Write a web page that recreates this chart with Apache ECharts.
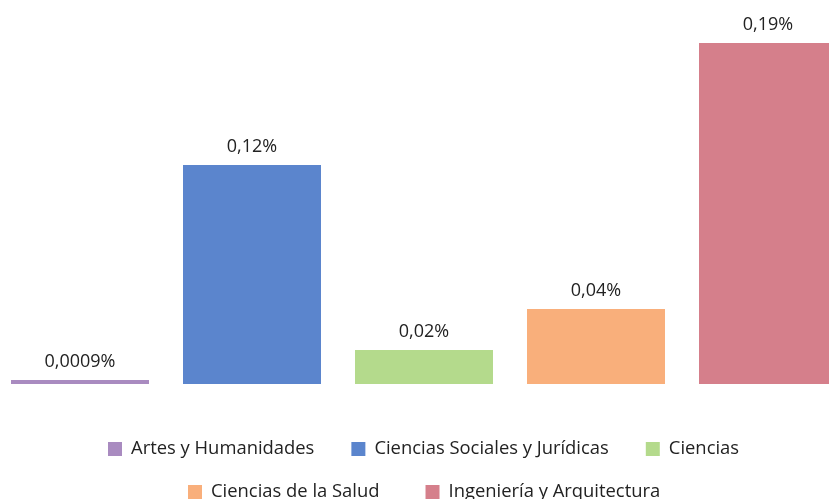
<!DOCTYPE html>
<html>
<head>
<meta charset="utf-8">
<script src="https://cdn.jsdelivr.net/npm/echarts@6/dist/echarts.min.js"></script>
<style>
  html, body { margin: 0; padding: 0; background: #fff; }
  #chart { width: 829px; height: 499px; }
</style>
</head>
<body>
<div id="chart"></div>
<script>
// areas shown, one bar each
const areas = ['Artes y Humanidades', 'Ciencias Sociales y Jurídicas', 'Ciencias', 'Ciencias de la Salud', 'Ingeniería y Arquitectura'];
const values = [0.0009, 0.122, 0.0189, 0.0418, 0.19];
const valueLabels = ['0,0009%', '0,12%', '0,02%', '0,04%', '0,19%'];
const colors = ['#A98BC0', '#5B85CD', '#B4DA8C', '#F9AF7B', '#D57F8B'];

const fontFamily = 'Open Sans';

const series = areas.map(function (name, i) {
    return {
        name: name,
        type: 'bar',
        stack: 'one',
        barWidth: 138,
        barMinHeight: 4,
        itemStyle: { color: colors[i] },
        label: {
            show: true,
            position: 'top',
            distance: 9,
            color: '#222',
            fontFamily: fontFamily,
            fontSize: 18,
            formatter: function () { return valueLabels[i]; }
        },
        data: areas.map(function (a, j) { return j === i ? values[i] : '-'; })
    };
});

const legendBase = {
    orient: 'horizontal',
    icon: 'rect',
    itemWidth: 14,
    itemHeight: 14,
    textStyle: { fontFamily: fontFamily, fontSize: 18.4, color: '#222', padding: [0, 0, 0, 4] },
    selectedMode: false
};

const option = {
    animation: false,
    backgroundColor: '#fff',
    grid: { left: -6, right: -25, top: 25, bottom: 115, outerBoundsMode: 'none', containLabel: false },
    xAxis: {
        type: 'category',
        data: areas,
        axisLine: { show: false },
        axisTick: { show: false },
        axisLabel: { show: false }
    },
    yAxis: {
        type: 'value',
        min: 0,
        max: 0.2,
        show: false,
        splitLine: { show: false }
    },
    legend: [
        Object.assign({}, legendBase, { data: areas.slice(0, 3), left: 103, top: 435, itemGap: 37 }),
        Object.assign({}, legendBase, { data: areas.slice(3), left: 183, top: 478, itemGap: 46 })
    ],
    series: series
};

const chart = echarts.init(document.getElementById('chart'), null, { renderer: 'canvas' });
chart.setOption(option);
</script>
</body>
</html>
